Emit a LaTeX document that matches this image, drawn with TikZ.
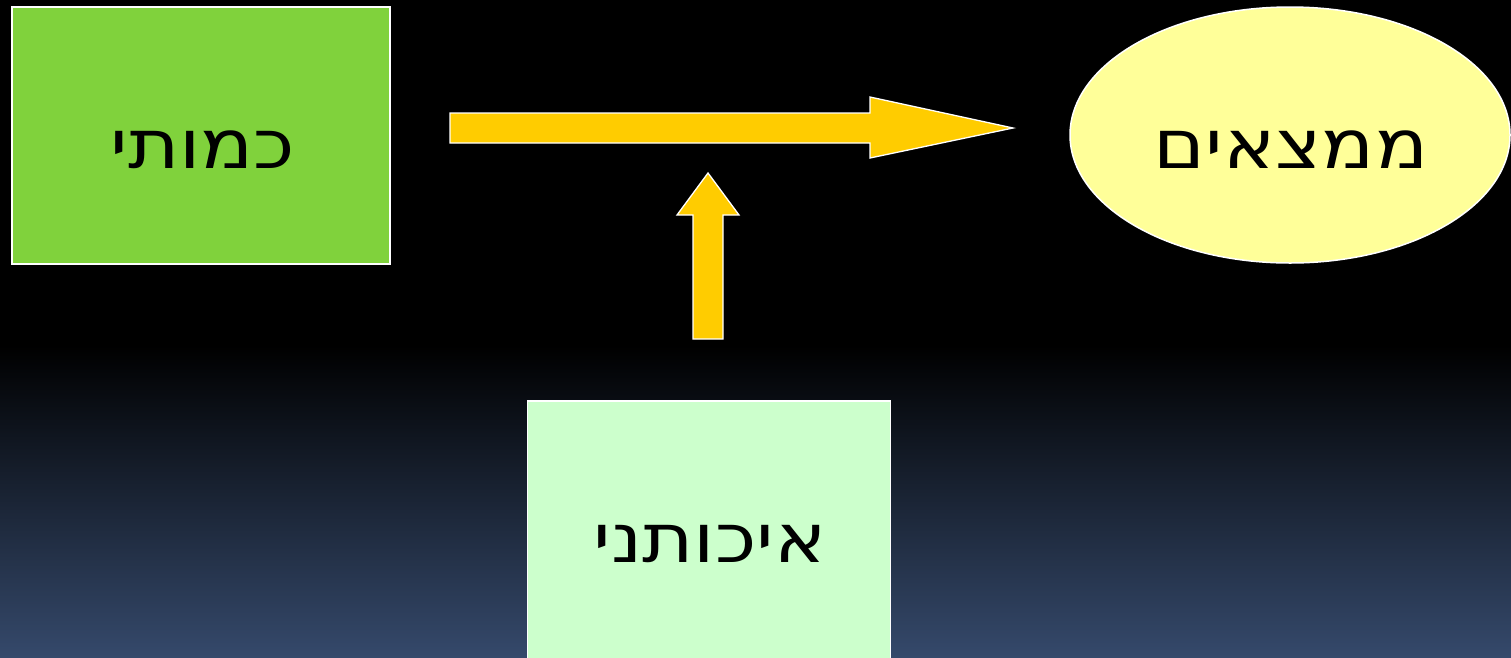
\documentclass[tikz,border=0pt]{standalone}
\usepackage{fontspec}
\usetikzlibrary{shapes.geometric}
\TeXXeTstate=1
\newfontfamily\hebfont[Script=Hebrew,FakeStretch=1.15]{DejaVu Sans}
\definecolor{bgblue}{RGB}{53,73,107}
\definecolor{boxgreen}{RGB}{128,210,60}
\definecolor{palegreen}{RGB}{204,255,204}
\definecolor{paleyellow}{RGB}{255,255,153}
\definecolor{arrowgold}{RGB}{255,204,0}
\tikzset{
  lbl/.style={font=\hebfont\fontsize{68}{76}\selectfont, text=black, anchor=base, inner sep=0pt},
  boxshape/.style={draw=white, line width=1.5pt},
  blockarrow/.style={fill=arrowgold, draw=white, line width=1.3pt, line join=miter}
}
\begin{document}
\begin{tikzpicture}[x=1pt,y=-1pt]
\useasboundingbox (0,0) rectangle (1511,657);
\fill[black] (0,0) rectangle (1511,657);
\shade[top color=black, bottom color=bgblue] (0,345) rectangle (1511,657);
% boxes
\node[boxshape, fill=boxgreen, minimum width=378pt, minimum height=257pt, inner sep=0pt] (kamuti) at (201,135.5) {};
\node[lbl] (kamutiText) at (203,168) {\beginR כמותי\endR};
\node[boxshape, fill=palegreen, minimum width=363pt, minimum height=280pt, inner sep=0pt, anchor=north west] (eichuti) at (526.5,400) {};
\node[lbl] (eichutiText) at (710,562) {\beginR איכותני\endR};
\node[boxshape, fill=paleyellow, ellipse, minimum width=440pt, minimum height=256pt, inner sep=0pt] (mimtsaim) at (1290,135) {};
\node[lbl] (mimtsaimText) at (1291,168) {\beginR ממצאים\endR};
% horizontal block arrow
\coordinate (htip) at (1013,128);
\draw[blockarrow] (450,113) -- (870,113) -- (870,97) -- (htip) -- (870,158) -- (870,143) -- (450,143) -- cycle;
% vertical block arrow
\coordinate (vtip) at (708,173);
\draw[blockarrow] (693,339) -- (693,215) -- (677,215) -- (vtip) -- (739,215) -- (723,215) -- (723,339) -- cycle;
\end{tikzpicture}
\end{document}
